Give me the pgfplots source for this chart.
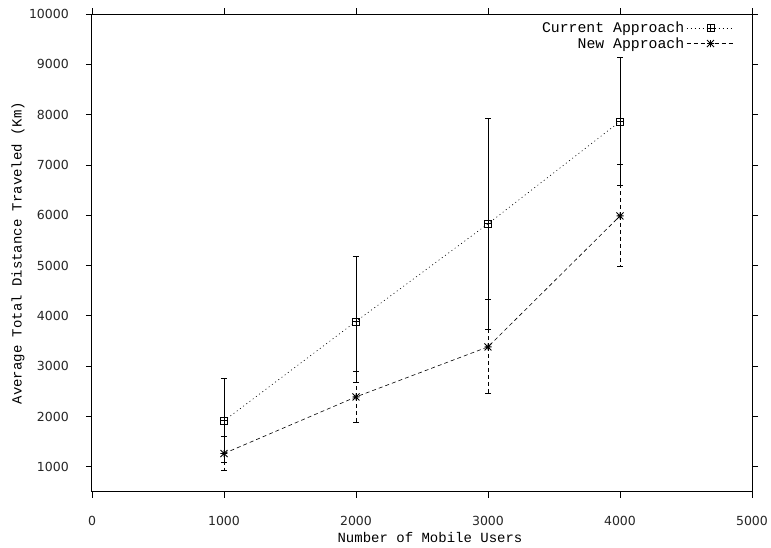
\documentclass[border=0pt]{standalone}
\usepackage{fontspec}
\setmainfont{Liberation Mono}
\newfontfamily\tickfont{DejaVu Sans}
\usepackage{pgfplots}
\pgfplotsset{compat=1.18}
\pgfdeclareplotmark{boxplus}{%
  \pgfpathrectangle{\pgfpoint{-\pgfplotmarksize}{-\pgfplotmarksize}}{\pgfpoint{2\pgfplotmarksize}{2\pgfplotmarksize}}%
  \pgfpathmoveto{\pgfpoint{-\pgfplotmarksize}{0pt}}\pgfpathlineto{\pgfpoint{\pgfplotmarksize}{0pt}}%
  \pgfpathmoveto{\pgfpoint{0pt}{-\pgfplotmarksize}}\pgfpathlineto{\pgfpoint{0pt}{\pgfplotmarksize}}%
  \pgfusepathqstroke}
\pgfdeclareplotmark{starburst}{%
  \pgfpathmoveto{\pgfpoint{-\pgfplotmarksize}{0pt}}\pgfpathlineto{\pgfpoint{\pgfplotmarksize}{0pt}}%
  \pgfpathmoveto{\pgfpoint{0pt}{-\pgfplotmarksize}}\pgfpathlineto{\pgfpoint{0pt}{\pgfplotmarksize}}%
  \pgfpathmoveto{\pgfpoint{-\pgfplotmarksize}{-\pgfplotmarksize}}\pgfpathlineto{\pgfpoint{\pgfplotmarksize}{\pgfplotmarksize}}%
  \pgfpathmoveto{\pgfpoint{-\pgfplotmarksize}{\pgfplotmarksize}}\pgfpathlineto{\pgfpoint{\pgfplotmarksize}{-\pgfplotmarksize}}%
  \pgfusepathqstroke}
\begin{document}
\begin{tikzpicture}
\path[use as bounding box] (-92pt,-56pt) rectangle (679pt,492pt);
\begin{axis}[
  scale only axis, width=660pt, height=478pt,
  xmin=0, xmax=5000, ymin=500, ymax=10000,
  xtick={0,1000,2000,3000,4000,5000},
  ytick={1000,2000,3000,4000,5000,6000,7000,8000,9000,10000},
  tick align=outside, major tick length=6pt,
  scaled ticks=false,
  /pgf/number format/1000 sep={},
  /pgf/number format/assume math mode=true,
  axis line style={line width=1pt},
  tick style={line width=0.8pt, black},
  tick label style={font=\tickfont\fontsize{12.5}{14}\selectfont, color=black!85},
  xticklabel style={anchor=center, yshift=-23pt},
  yticklabel style={anchor=east, inner sep=0pt, xshift=-17pt},
  xlabel={Number of Mobile Users},
  ylabel={Average Total Distance Traveled (Km)},
  label style={font=\fontsize{14}{16}\selectfont},
  xlabel style={at={([xshift=8pt,yshift=-45pt]axis description cs:0.5,0)}, anchor=center},
  ylabel style={at={([xshift=-74pt]axis description cs:0,0.5)}, anchor=center},
  legend cell align=right, legend plot pos=right,
  legend style={at={(axis description cs:1,1)}, anchor=north east, draw=none, fill=none,
    font=\fontsize{14.8}{16}\selectfont, xshift=-17pt, yshift=-6pt, inner sep=0pt, row sep=-1pt},
  legend image code/.code={\draw[mark repeat=2,mark phase=2,#1] plot coordinates {(0pt,0pt) (24pt,0pt) (48pt,0pt)};},
]
\addplot[black, line width=0.6pt, dash pattern=on 1pt off 3pt, mark=boxplus, mark size=3.5pt,
  mark options={solid, line width=0.7pt},
  error bars/.cd, y dir=both, y explicit,
  error bar style={solid, line width=0.9pt},
  error mark options={rotate=90, mark size=3pt, solid, line width=0.9pt}]
  coordinates {
    (1000,1915) +- (0,835)
    (2000,3890) += (0,1300) -= (0,1220)
    (3000,5830) +- (0,2095)
    (4000,7865) +- (0,1280)
  };
\addlegendentry{Current Approach}
\addplot[black, line width=0.6pt, dash pattern=on 4pt off 3pt, mark=starburst, mark size=3.5pt,
  mark options={solid, line width=0.9pt},
  error bars/.cd, y dir=both, y explicit,
  error bar style={line width=0.9pt, dash pattern=on 4pt off 3pt},
  error mark options={rotate=90, mark size=3pt, solid, line width=0.9pt}]
  coordinates {
    (1000,1265) +- (0,330)
    (2000,2390) +- (0,510)
    (3000,3384) +- (0,934)
    (4000,5987) +- (0,1013)
  };
\addlegendentry{New Approach}
\end{axis}
\end{tikzpicture}
\end{document}
